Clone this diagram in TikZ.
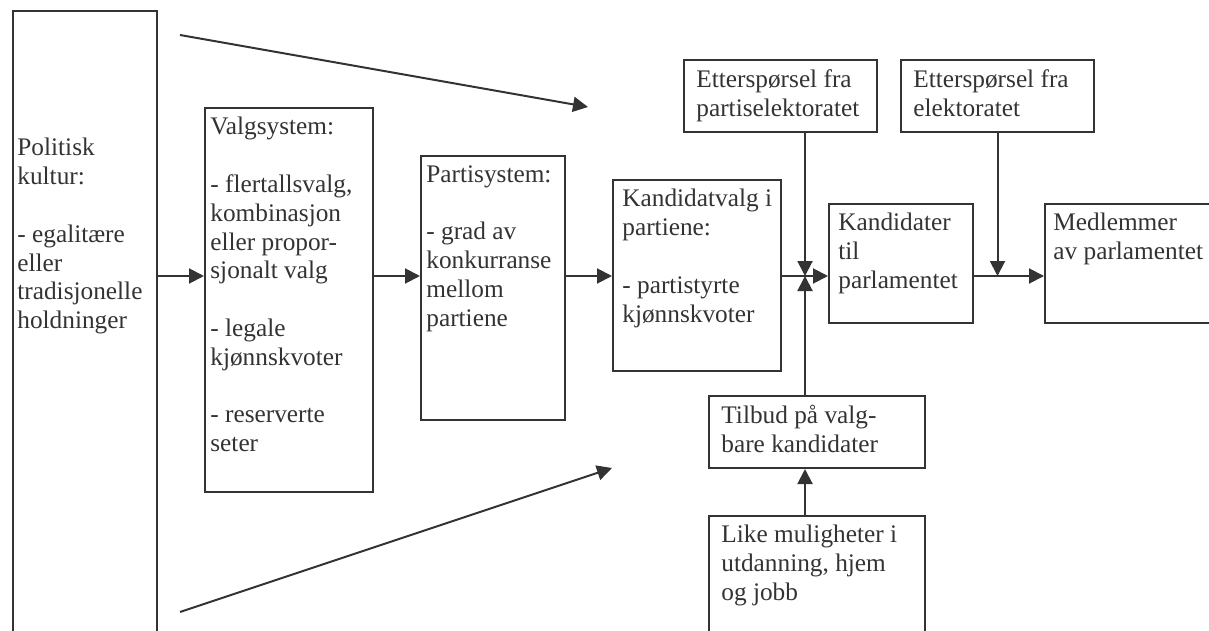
\documentclass[tikz,border=0pt]{standalone}
\usepackage{fontspec}
\setmainfont{Liberation Serif}
\usetikzlibrary{arrows.meta,calc,fit}
\definecolor{ink}{HTML}{333333}

\begin{document}
\begin{tikzpicture}[x=0.5pt, y=-0.5pt,
	box/.style={draw=ink, line width=1pt, inner sep=0pt},
	txt/.style={inner sep=0pt, anchor=north west, align=left, text=ink, font=\fontsize{12.65}{14.4}\selectfont, execute at begin node=\strut},
	arr/.style={draw=ink, line width=1pt, -{Triangle[length=7.5pt, width=7.5pt]}}]
	\useasboundingbox (0,0) rectangle (1209,631);
	\clip (0,0) rectangle (1209,631);
	\node[box, fit={(13,11) (157,660)}] (pol) {};
	\node[box, fit={(205,108) (373,492)}] (valg) {};
	\node[box, fit={(421,156) (565,420)}] (parti) {};
	\node[box, fit={(613,180) (781,371)}] (kvalg) {};
	\node[box, fit={(684,60) (877,132)}] (ettp) {};
	\node[box, fit={(901,60) (1094,132)}] (ette) {};
	\node[box, fit={(829,204) (973,323)}] (kand) {};
	\node[box, fit={(1045,204) (1240,323)}] (medl) {};
	\node[box, fit={(709,396) (925,468)}] (tilbud) {};
	\node[box, fit={(709,516) (925,660)}] (like) {};
	\node[txt] (poltxt) at ($(pol.north west)+(5,128)$) {Politisk\\ kultur:\\[14.4pt] - egalitære\\ eller\\ tradisjonelle\\ holdninger};
	\node[txt] (valgtxt) at ($(valg.north west)+(6,10)$) {Valgsystem:\\[14.4pt] - flertallsvalg,\\ kombinasjon\\ eller propor-\\ sjonalt valg\\[14.4pt] - legale\\ kjønnskvoter\\[14.4pt] - reserverte\\ seter};
	\node[txt] (partitxt) at ($(parti.north west)+(6,10)$) {Partisystem:\\[14.4pt] - grad av\\ konkurranse\\ mellom\\ partiene};
	\node[txt] (kvalgtxt) at ($(kvalg.north west)+(10,10)$) {Kandidatvalg i\\ partiene:\\[14.4pt] - partistyrte\\ kjønnskvoter};
	\node[txt] (ettptxt) at ($(ettp.north west)+(13,10)$) {Etterspørsel fra\\ partiselektoratet};
	\node[txt] (ettetxt) at ($(ette.north west)+(13,10)$) {Etterspørsel fra\\ elektoratet};
	\node[txt] (kandtxt) at ($(kand.north west)+(10,10)$) {Kandidater\\ til\\ parlamentet};
	\node[txt] (medltxt) at ($(medl.north west)+(9,10)$) {Medlemmer\\ av parlamentet};
	\node[txt] (tilbudtxt) at ($(tilbud.north west)+(13,10)$) {Tilbud på valg-\\ bare kandidater};
	\node[txt] (liketxt) at ($(like.north west)+(13,10)$) {Like muligheter i\\ utdanning, hjem\\ og jobb};
	\coordinate (main) at (0,276);
	\coordinate (junc) at (805,276);
	\coordinate (topa) at (180,35);
	\coordinate (topb) at (588,107);
	\coordinate (bota) at (180,612);
	\coordinate (botb) at (612,468);
	\draw[arr] (pol.east |- main) -- (valg.west |- main);
	\draw[arr] (valg.east |- main) -- (parti.west |- main);
	\draw[arr] (parti.east |- main) -- (kvalg.west |- main);
	\draw[arr] (kvalg.east |- main) -- (kand.west |- main);
	\draw[arr] (kand.east |- main) -- (medl.west |- main);
	\draw[arr] (ettp.south -| junc) -- (junc);
	\draw[arr] (tilbud.north -| junc) -- (junc);
	\draw[arr] (like.north -| junc) -- (tilbud.south -| junc);
	\draw[arr] (ette.south) -- (ette.south |- main);
	\draw[arr] (topa) -- (topb);
	\draw[arr] (bota) -- (botb);
\end{tikzpicture}
\end{document}
